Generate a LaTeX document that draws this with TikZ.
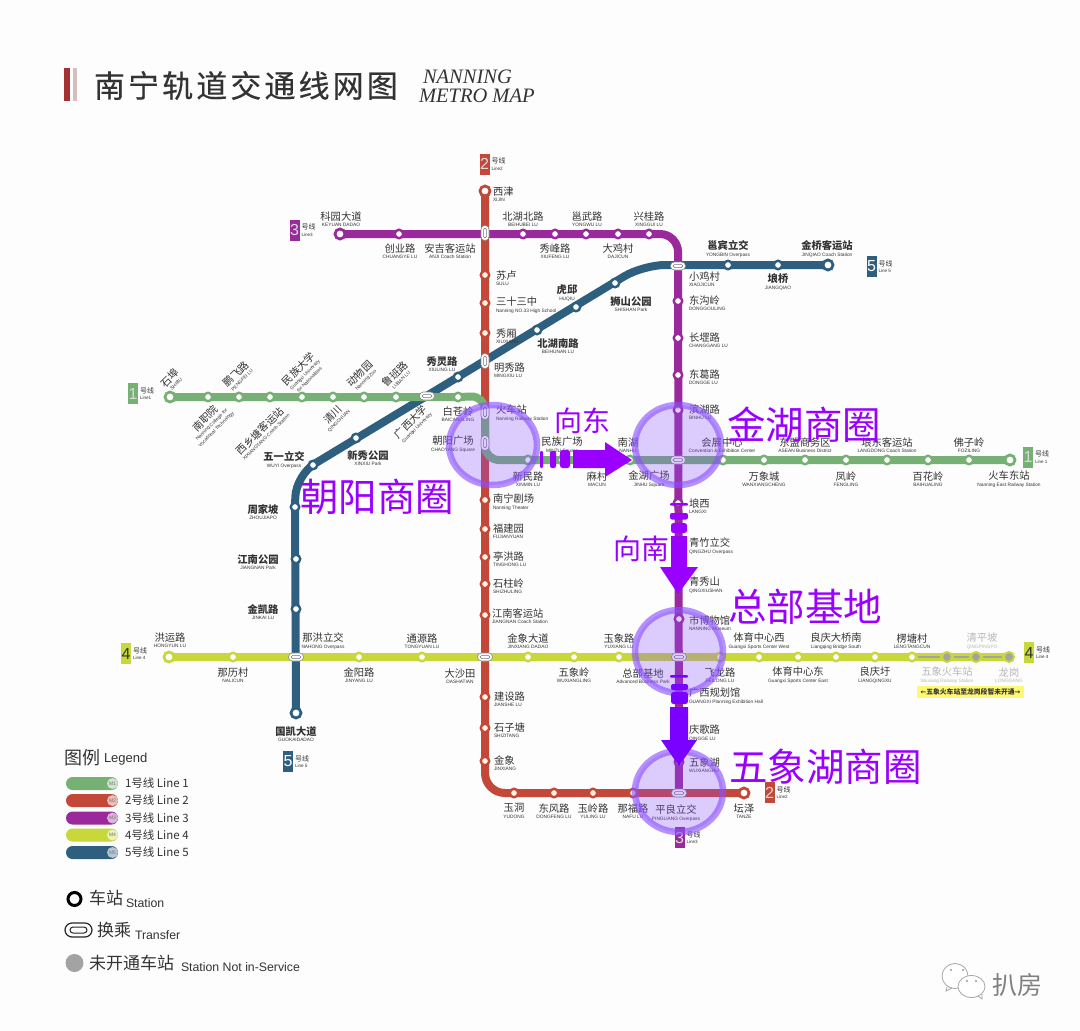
\documentclass[tikz,border=0pt]{standalone}
\usepackage{fontspec}
\usetikzlibrary{arrows.meta,positioning,backgrounds,shapes.geometric}
\setmainfont{Liberation Sans}
\newfontfamily\cjk{Noto Sans CJK SC}
\newfontfamily\cjktitle[LetterSpace=10,FakeBold=0.4]{Noto Sans CJK SC}
\newfontfamily\titleen{Liberation Serif}
\newfontfamily\dejavu{DejaVu Sans}
\definecolor{lineone}{HTML}{76B074}
\definecolor{linetwo}{HTML}{C4483A}
\definecolor{linethree}{HTML}{9A2A9C}
\definecolor{linefour}{HTML}{C8D83A}
\definecolor{linefive}{HTML}{2F5F7F}
\definecolor{zone}{HTML}{8A4FFF}
\definecolor{hint}{HTML}{9A00FF}
\definecolor{hintb}{HTML}{7A00FF}
\definecolor{ink}{HTML}{333333}
\definecolor{paper}{HTML}{FDFDFD}
\definecolor{closed}{HTML}{A3A3A3}
% station name: chinese above, pinyin below
\newcommand{\enf}{\fontsize{4.8}{5}\selectfont\rmfamily\mdseries}
\newcommand{\stxt}[2]{\fontsize{10.3}{11}\selectfont\cjk #1\\\enf #2}
\newcommand{\btxt}[2]{\fontsize{10.3}{11}\selectfont\cjk\bfseries #1\\\enf #2}

\begin{document}
\begin{tikzpicture}[
  x=1pt,y=-1pt,
  every node/.append style={text=ink,inner sep=0pt,outer sep=0pt},
  stn/.style={circle,fill=white,line width=2.4pt,minimum size=8.5pt},
  endstn/.style={circle,fill=white,line width=2.8pt,minimum size=10pt},
  offstn/.style={circle,fill=closed,draw=linefour,line width=2pt,minimum size=10pt},
  xfer/.style={rectangle,rounded corners=3.8pt,fill=white,draw=black!45,line width=.6pt},
  xin/.style={rectangle,rounded corners=1.5pt,draw=black!55,line width=.5pt},
  lc/.style={align=center,font=\fontsize{10.3}{6.5}\selectfont},
  lw/.style={align=left,anchor=west,font=\fontsize{10.3}{6.5}\selectfont},
  lup/.style={align=center,rotate=45,font=\fontsize{10.3}{6.5}\selectfont},
  metro/.style={line width=8pt,line cap=round},
  zonering/.style={ellipse,fill=zone,fill opacity=.28,draw=zone,draw opacity=.62,line width=6.5pt},
  bigtxt/.style={text=hint,font=\fontsize{38.5}{40}\selectfont\cjk,anchor=west},
  hinttxt/.style={text=hint,font=\fontsize{28}{30}\selectfont\cjk},
  badge/.style={rectangle,minimum width=10pt,minimum height=21pt,font=\fontsize{16}{16}\selectfont},
  badgetxt/.style={align=left,anchor=west,font=\fontsize{7}{7.5}\selectfont\cjk},
  pill/.style={rectangle,rounded corners=6.5pt,minimum width=52pt,minimum height=13pt},
  pilltip/.style={circle,fill=white,fill opacity=.65,text opacity=1,text=black!55,minimum size=11pt,font=\fontsize{5}{5}\selectfont},
  legtxt/.style={anchor=west,font=\fontsize{11.5}{12}\selectfont\cjk},
]
\useasboundingbox (0,0) rectangle (1080,1031);
% --- title ---
\fill[red!55!black!80] (64,68) rectangle (70,101);
\fill[red!30!black!25!white] (73,68) rectangle (77,101);
\node[anchor=west,font=\fontsize{31}{33}\selectfont\cjktitle,text=ink] (title) at (94,85.5) {南宁轨道交通线网图};
\node[anchor=west,font=\fontsize{20.5}{21}\selectfont\titleen\itshape] (titleb) at (423,77) {NANNING};
\node[anchor=west,font=\fontsize{20.5}{21}\selectfont\titleen\itshape] (titlec) at (419,96) {METRO MAP};
% --- transfer stations ---
\foreach \n/\x/\y/\w/\h in {anji/485/233/8/15,mingxiu/485/361/8/15,huoche/485/412/8/15,chaoyang/485/443/8/15,
  guangda/427/396/15/8,jinhu/678/460/15/8,xiaoji/678/266/15/8,nahong/296/657/15/8,
  dasha/485/657/15/8,zongbu/679/657/15/8,pingliang/679/793/15/8} {
  \node[xfer,minimum width=\w,minimum height=\h] (\n) at (\x,\y) {};
  \node[xin,minimum width=\w-5,minimum height=\h-5] (\n-in) at (\x,\y) {};
}
\foreach \n/\s/\lx/\ly/\cn/\en in {
  anji/lc/450/251/安吉客运站/ANJI Coach Station,
  mingxiu/lw/494/370/明秀路/MINGXIU LU,
  huoche/lw/496/413/火车站/Nanning Railway Station,
  chaoyang/lc/453/444/朝阳广场/CHAOYANG Square,
  guangda/lup/413/424/广西大学/Guangxi University,
  jinhu/lc/649/479/金湖广场/JINHU Square,
  xiaoji/lw/689/279/小鸡村/XIAOJICUN,
  nahong/lc/323/641/那洪立交/NAHONG Overpass,
  dasha/lc/460/676/大沙田/DASHATIAN,
  zongbu/lc/643/676/总部基地/Advanced Business Park,
  pingliang/lc/676/813/平良立交/PINGLIANG Overpass} {
  \node[\s] (\n-t) at (\lx,\ly) {\stxt{\cn}{\en}};
}
% --- line 1 ---
\foreach \n/\x/\y/\s/\lx/\ly/\cn/\en in {
  shibu/170/397/lup/172/380/石埠/SHIBU,
  nanzhi/208/397/lup/210/423/南职院/Nanning College for\\\enf Vocational Technology,
  pengfei/239/397/lup/238/376/鹏飞路/PENGFEI LU,
  xixiang/270/397/lup/262/433/西乡塘客运站/XIXIANGTANG Coach Station,
  minda/302/397/lup/303/373/民族大学/Guangxi University\\\enf for Nationalities,
  qingchuan/333/397/lup/335/417/清川/QINGCHUAN,
  dongwu/364/397/lup/362/376/动物园/Nanning Zoo,
  luban/396/397/lup/397/376/鲁班路/LUBAN LU,
  baicang/458/397/lc/458/414/白苍岭/BAICANGLING,
  xinmin/528/460/lc/528/479/新民路/XINMIN LU,
  minzu/562/460/lc/562/445/民族广场/MINZU Square,
  macun/596/460/lc/597/479/麻村/MACUN,
  nanhu/630/460/lc/628/445/南湖/NANHU,
  huizhan/723/460/lc/722/445/会展中心/Convention \& Exhibition Center,
  wanxiang/764/460/lc/764/479/万象城/WANXIANGCHENG,
  asean/805/460/lc/805/445/东盟商务区/ASEAN Business District,
  fengling/846/460/lc/846/479/凤岭/FENGLING,
  langdong/887/460/lc/887/445/埌东客运站/LANGDONG Coach Station,
  baihua/928/460/lc/928/479/百花岭/BAIHUALING,
  fozi/969/460/lc/969/445/佛子岭/FOZILING,
  huochedong/1010/460/lc/1009/479/火车东站/Nanning East Railway Station} {
  \node[stn,draw=lineone] (\n) at (\x,\y) {};
  \node[\s] (\n-t) at (\lx,\ly) {\stxt{\cn}{\en}};
}
% --- line 2 ---
\foreach \n/\x/\y/\s/\lx/\ly/\cn/\en in {
  xijin/485/191/lw/493/194/西津/XIJIN,
  sulu/485/275/lw/496/278/苏卢/SULU,
  sanshi/485/303/lw/496/305/三十三中/Nanning NO.33 High School,
  xiuxiang/485/333/lw/496/336/秀厢/XIUXIANG,
  juchang/485/500/lw/493/502/南宁剧场/Nanning Theater,
  fujian/485/529/lw/493/531/福建园/FUJIANYUAN,
  tinghong/485/557/lw/493/559/亭洪路/TINGHONG LU,
  shizhu/485/584/lw/493/586/石柱岭/SHIZHULING,
  jiangnan/485/615/lw/492/616/江南客运站/JIANGNAN Coach Station,
  jianshe/485/697/lw/494/699/建设路/JIANSHE LU,
  shizi/485/728/lw/494/730/石子塘/SHIZITANG,
  jinxiang/485/761/lw/494/763/金象/JINXIANG,
  yudong/514/793/lc/514/811/玉洞/YUDONG,
  dongfeng/554/793/lc/554/811/东风路/DONGFENG LU,
  yuling/593/793/lc/593/811/玉岭路/YULING LU,
  nafu/633/793/lc/633/811/那福路/NAFU LU,
  tanze/744/793/lc/744/811/坛泽/TANZE} {
  \node[stn,draw=linetwo,fill=white!90!orange] (\n) at (\x,\y) {};
  \node[\s] (\n-t) at (\lx,\ly) {\stxt{\cn}{\en}};
}
% --- line 3 ---
\foreach \n/\x/\y/\s/\lx/\ly/\cn/\en in {
  keyuan/340/234/lc/341/219/科园大道/KEYUAN DADAO,
  chuangye/399/234/lc/400/251/创业路/CHUANGYE LU,
  beihubei/523/234/lc/523/219/北湖北路/BEIHUBEI LU,
  xiufeng/555/234/lc/555/251/秀峰路/XIUFENG LU,
  yongwu/586/234/lc/587/219/邕武路/YONGWU LU,
  daji/618/234/lc/618/251/大鸡村/DAJICUN,
  xinggui/649/234/lc/649/219/兴桂路/XINGGUI LU,
  donggou/678/301/lw/689/303/东沟岭/DONGGOULING,
  changgang/678/338/lw/689/340/长堽路/CHANGGANG LU,
  dongge/678/375/lw/689/377/东葛路/DONGGE LU,
  binhu/678/410/lw/689/412/滨湖路/BINHU LU,
  langxi/678/503/lw/689/506/埌西/LANGXI,
  qingzhu/678/541/lw/689/546/青竹立交/QINGZHU Overpass,
  qingxiu/678/582/lw/689/585/青秀山/QINGXIUSHAN,
  bowuguan/679/619/lw/689/623/市博物馆/NANNING Museum,
  guihua/679/697/lw/689/696/广西规划馆/GUANGXI Planning Exhibition Hall,
  qingge/679/730/lw/689/733/庆歌路/QINGGE LU,
  wuxianghu/679/762/lw/689/765/五象湖/WUXIANGHU} {
  \node[stn,draw=linethree] (\n) at (\x,\y) {};
  \node[\s] (\n-t) at (\lx,\ly) {\stxt{\cn}{\en}};
}
% --- line 4 ---
\foreach \n/\x/\y/\s/\lx/\ly/\cn/\en in {
  hongyun/169/657/lc/170/640/洪运路/HONGYUN LU,
  nali/233/657/lc/233/675/那历村/NALICUN,
  jinyang/359/657/lc/359/675/金阳路/JINYANG LU,
  tongyuan/422/657/lc/422/641/通源路/TONGYUAN LU,
  jinxdadao/528/657/lc/528/641/金象大道/JINXIANG DADAO,
  wuxling/574/657/lc/574/675/五象岭/WUXIANGLING,
  yuxiang/619/657/lc/619/641/玉象路/YUXIANG LU,
  feilong/720/657/lc/720/675/飞龙路/FEILONG LU,
  tiyuxi/759/657/lc/759/641/体育中心西/Guangxi Sports Center West,
  tiyudong/798/657/lc/798/675/体育中心东/Guangxi Sports Center East,
  daqiao/836/657/lc/836/641/良庆大桥南/Liangqing Bridge South,
  liangqing/875/657/lc/875/675/良庆圩/LIANGQINGXU,
  lengtang/912/657/lc/912/641/楞塘村/LENGTANGCUN} {
  \node[stn,draw=linefour] (\n) at (\x,\y) {};
  \node[\s] (\n-t) at (\lx,\ly) {\stxt{\cn}{\en}};
}
% not yet in service
\foreach \n/\x/\lx/\ly/\cn/\en in {
  wxhuoche/947/947/675/五象火车站/Wuxiang Railway Station,
  qingping/976/982/641/清平坡/QINGPINGPO,
  longgang/1009/1009/675/龙岗/LONGGANG} {
  \node[offstn] (\n) at (\x,657) {};
  \node[lc,text=black!28] (\n-t) at (\lx,\ly) {\stxt{\cn}{\en}};
}
\node[fill=yellow!55,minimum width=107pt,minimum height=12pt,font=\fontsize{6.8}{7}\selectfont\cjk\bfseries] (notice) at (970.5,692)
  {{\dejavu ←}五象火车站至龙岗段暂未开通{\dejavu →}};
% --- line 5 ---
\foreach \n/\x/\y/\s/\lx/\ly/\cn/\en in {
  guokai/296/713/lc/296/734/国凯大道/GUOKAIDADAO,
  jinkai/296/609/lc/263/612/金凯路/JINKAI LU,
  jnpark/296/559/lc/258/562/江南公园/JIANGNAN Park,
  zhoujia/295/507/lc/263/512/周家坡/ZHOUJIAPO,
  wuyi/313/465/lc/284/460/五一立交/WUYI Overpass,
  xinxiu/356/438/lc/368/458/新秀公园/XINXIU Park,
  xiuling/458/377/lc/442/364/秀灵路/XIULING LU,
  beihunan/537/330/lc/558/346/北湖南路/BEIHUNAN LU,
  huqiu/576/307/lc/567/293/虎邱/HUQIU,
  shishan/615/283/lc/631/304/狮山公园/SHISHAN Park,
  yongbin/728/265/lc/728/249/邕宾立交/YONGBIN Overpass,
  jiangqiao/778/265/lc/778/282/埌桥/JIANGQIAO,
  jinqiao/828/265/lc/827/249/金桥客运站/JINQIAO Coach Station} {
  \node[stn,draw=linefive] (\n) at (\x,\y) {};
  \node[\s] (\n-t) at (\lx,\ly) {\btxt{\cn}{\en}};
}
% termini are a little larger
\foreach \n/\c in {shibu/lineone,huochedong/lineone,xijin/linetwo,tanze/linetwo,keyuan/linethree,hongyun/linefour,guokai/linefive,jinqiao/linefive} {
  \node[endstn,draw=\c] (\n-end) at (\n) {};
}
% corners of the lines
\coordinate (cornerw) at (485,396);
\coordinate (cornerv) at (485,460);
\coordinate (cornerb) at (485,793);
\coordinate (cornerc) at (678,234);
\coordinate (cornerd) at (296,475);
\coordinate (cornere) at (643,265);
% --- the lines run under the stations ---
\begin{scope}[on background layer]
  \fill[paper] (0,0) rectangle (1080,1031);
  \draw[metro,draw=linefive] (guokai.center) -- (zhoujia.center) [rounded corners=22pt] -- (cornerd) -- (cornere) -- (jinqiao.center);
  \draw[metro,draw=linetwo] (xijin.center) [rounded corners=20pt] -- (cornerb) -- (tanze.center);
  \draw[metro,draw=linefour] (hongyun.center) -- (longgang.center);
  \draw[metro,draw=lineone] (shibu.center) -- (baicang.center) [rounded corners=14pt] -- (cornerw) -- (cornerv) -- (huochedong.center);
  \draw[metro,draw=linethree] (keyuan.center) [rounded corners=18pt] -- (cornerc) -- (pingliang.center);
\end{scope}
\draw[line width=2pt,draw=closed,shorten >=2pt,shorten <=2pt] (lengtang) -- (wxhuoche);
\draw[line width=2pt,draw=closed,shorten >=2pt,shorten <=2pt] (wxhuoche) -- (qingping);
\draw[line width=2pt,draw=closed,shorten >=2pt,shorten <=2pt] (qingping) -- (longgang);
% --- line badges ---
\foreach \n/\x/\y/\c/\d/\i/\t in {
  badgea/133/393.5/lineone/white!85!black/1/Line1,
  badgeb/1028/457/lineone/white!85!black/1/Line 1,
  badgec/484.5/164/linetwo/white!85!black/2/Line2,
  badged/769.5/792.5/linetwo/white!85!black/2/Line2,
  badgee/294.5/230/linethree/white!85!black/3/Line3,
  badgef/679.5/837.5/linethree/white!85!black/3/Line3,
  badgeg/126/653.5/linefour/black!80/4/Line 4,
  badgeh/1029/652.5/linefour/black!80/4/Line 4,
  badgei/871.5/266.5/linefive/white/5/Line 5,
  badgej/288/761.5/linefive/white/5/Line 5} {
  \node[badge,fill=\c,text=\d] (\n) at (\x,\y) {\i};
  \node[badgetxt,right=2pt of \n] (\n-t) {号线\\[-1pt]\fontsize{4.6}{5}\selectfont\rmfamily\t};
}
% --- business zones ---
\node[zonering,minimum width=88pt,minimum height=80pt] (zonea) at (493,445) {};
\node[zonering,minimum width=86pt,minimum height=80pt] (zoneb) at (678,445) {};
\node[zonering,minimum width=88pt,minimum height=83pt] (zonec) at (679,651.5) {};
\node[zonering,minimum width=88pt,minimum height=81pt] (zoned) at (679,791.5) {};
\node[bigtxt] (zonea-t) at (300,497) {朝阳商圈};
\node[bigtxt] (zoneb-t) at (727,425) {金湖商圈};
\node[bigtxt] (zonec-t) at (728,607) {总部基地};
\node[bigtxt] (zoned-t) at (729,767) {五象湖商圈};
\node[hinttxt] (east) at (582,421) {向东};
\node[hinttxt] (south) at (641,549) {向南};
% --- direction arrows ---
\fill[hint] (573,450) -- (605,450) -- (605,442) -- (632,460) -- (605,477) -- (605,468) -- (573,468) -- cycle;
\fill[hint,rounded corners=1.2pt] (540,451) rectangle (543,468);
\fill[hint,rounded corners=2pt] (550,451) rectangle (556,468);
\fill[hint,rounded corners=2.5pt] (560,450) rectangle (570,468);
\fill[hint] (671,536) -- (687,536) -- (687,567) -- (698,567) -- (678,594) -- (660,567) -- (671,567) -- cycle;
\fill[hint,rounded corners=1pt] (670,503) rectangle (688,505.5);
\fill[hint,rounded corners=2pt] (670,513) rectangle (688,519.5);
\fill[hint,rounded corners=2.5pt] (671,523) rectangle (687,533);
\fill[hintb] (670,707) -- (688,707) -- (688,740) -- (697,740) -- (679,766) -- (661,740) -- (670,740) -- cycle;
\fill[hintb,rounded corners=1pt] (670,675) rectangle (688,677.5);
\fill[hintb,rounded corners=2pt] (671,684) rectangle (688,690);
\fill[hintb,rounded corners=2.5pt] (671,692) rectangle (688,704);
% --- legend ---
\node[anchor=west,font=\fontsize{18}{18}\selectfont\cjk] (legend) at (64,758) {图例};
\node[anchor=west,font=\fontsize{13}{13}\selectfont,right=4pt of legend,yshift=-1pt] (legendb) {Legend};
\foreach \i/\y/\c in {1/783.5/lineone,2/800.5/linetwo,3/818/linethree,4/835/linefour,5/852.5/linefive} {
  \node[pill,fill=\c,anchor=west] (pill\i) at (66,\y) {};
  \node[pilltip] (tip\i) at (112.5,\y) {M\i};
  \node[legtxt] (leg\i) at (125,\y) {\i 号线 Line \i};
}
\node[circle,draw=black,line width=3pt,minimum size=13pt] (iconstn) at (74.5,899) {};
\node[anchor=west,font=\fontsize{17}{17}\selectfont\cjk] (iconstn-t) at (89,898) {车站};
\node[anchor=west,font=\fontsize{12.3}{12}\selectfont] (iconstn-e) at (126,903) {Station};
\node[rectangle,rounded corners=7pt,draw=black!85,line width=1.2pt,minimum width=27pt,minimum height=14pt] (iconxfer) at (78.5,930) {};
\node[rectangle,rounded corners=3pt,draw=black!85,line width=1pt,minimum width=17pt,minimum height=6pt] (iconxfer-in) at (78.5,930) {};
\node[anchor=west,font=\fontsize{17}{17}\selectfont\cjk] (iconxfer-t) at (97,930) {换乘};
\node[anchor=west,font=\fontsize{12.3}{12}\selectfont] (iconxfer-e) at (135,935) {Transfer};
\node[circle,fill=closed,minimum size=18pt] (iconoff) at (74.5,963) {};
\node[anchor=west,font=\fontsize{17}{17}\selectfont\cjk] (iconoff-t) at (89,963) {未开通车站};
\node[anchor=west,font=\fontsize{12.3}{12}\selectfont] (iconoff-e) at (181,967) {Station Not in-Service};
% --- watermark ---
\draw[draw=black!35,line width=.8pt,fill=white] (955,976) ellipse (13 and 12.5);
\draw[draw=black!35,line width=.8pt] (947,987) -- (946,991) -- (952,988);
\draw[draw=black!35,line width=.8pt,fill=white] (971.5,986.5) ellipse (13.5 and 11);
\draw[draw=black!35,line width=.8pt] (978,996) -- (982,999) -- (982,994);
\foreach \x/\y in {951/970,963/970,967/981,976/981} {
  \fill[black!40] (\x,\y) circle (1.1);
}
\node[anchor=west,text=black!50,font=\fontsize{25}{25}\selectfont\cjk] (mark) at (992,985) {扒房};
\end{tikzpicture}
\end{document}
